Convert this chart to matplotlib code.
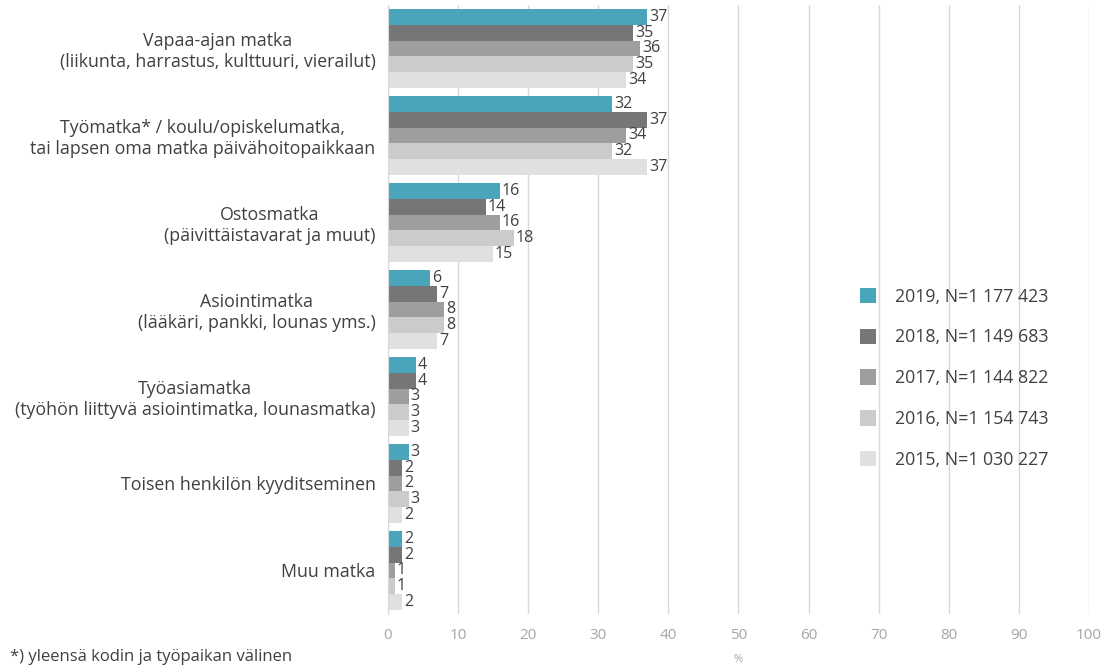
import numpy as np
import matplotlib.pyplot as plt

plt.rcParams['font.family'] = ['Open Sans', 'DejaVu Sans']

# categories (top to bottom)
categories = [
    'Vapaa-ajan matka\n(liikunta, harrastus, kulttuuri, vierailut)',
    'Työmatka* / koulu/opiskelumatka,\ntai lapsen oma matka päivähoitopaikkaan',
    'Ostosmatka\n(päivittäistavarat ja muut)',
    'Asiointimatka\n(lääkäri, pankki, lounas yms.)',
    'Työasiamatka\n(työhön liittyvä asiointimatka, lounasmatka)',
    'Toisen henkilön kyyditseminen',
    'Muu matka',
]

series_names = ['2019, N=1 177 423', '2018, N=1 149 683', '2017, N=1 144 822',
                '2016, N=1 154 743', '2015, N=1 030 227']
v2019 = [37, 32, 16, 6, 4, 3, 2]
v2018 = [35, 37, 14, 7, 4, 2, 2]
v2017 = [36, 34, 16, 8, 3, 2, 1]
v2016 = [35, 32, 18, 8, 3, 3, 1]
v2015 = [34, 37, 15, 7, 3, 2, 2]
values = [v2019, v2018, v2017, v2016, v2015]
colors = ['#4aa5bb', '#767676', '#9e9e9e', '#cbcbcb', '#e0e0e0']

fig = plt.figure(figsize=(11.16, 6.65), dpi=100)
ax = fig.add_axes([0.3477, 0.0767, 0.628, 0.9158])

y = np.arange(len(categories))
h = 0.916 / 5
for j, (vals, col, name) in enumerate(zip(values, colors, series_names)):
    pos = y + (j - 2) * h
    ax.barh(pos, vals, height=h, color=col, label=name, zorder=2)
    for p, v in zip(pos, vals):
        ax.text(v + 0.25, p, str(v), va='center', ha='left', fontsize=11.5,
                color='#404040', zorder=3)

ax.set_xlim(0, 100)
ax.set_ylim(len(categories) - 0.5, -0.5)
ax.set_xticks(np.arange(0, 101, 10))
ax.set_yticks(y)
ax.set_yticklabels(categories, fontsize=12.8, color='#404040', multialignment='center')
ax.tick_params(axis='x', colors='#a6a6a6', labelsize=11, length=0, pad=10)
ax.tick_params(axis='y', length=0, pad=9)
ax.grid(axis='x', color='#d9d9d9', linewidth=1, zorder=0)
for s in ['top', 'right', 'bottom']:
    ax.spines[s].set_visible(False)
ax.spines['left'].set_color('#d9d9d9')
ax.set_xlabel('%', color='#a6a6a6', fontsize=8, labelpad=8)

leg = ax.legend(loc='upper left', bbox_to_anchor=(0.65, 0.562), frameon=False,
                handlelength=0.95, handleheight=0.95, labelspacing=1.28,
                handletextpad=1.05, fontsize=12.8)
for t in leg.get_texts():
    t.set_color('#404040')

fig.text(0.009, 0.006, '*) yleensä kodin ja työpaikan välinen', fontsize=12, color='#404040')

fig.savefig('out.png', dpi=100)
